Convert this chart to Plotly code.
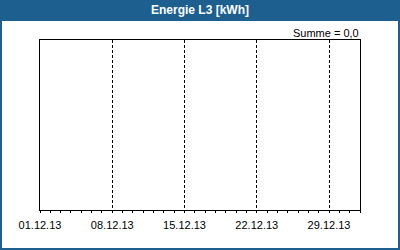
import plotly.graph_objects as go

# Data (the chart shows no measurements for this period)
dates = []
energy_kwh = []
tick_dates = ["2013-12-01", "2013-12-08", "2013-12-15", "2013-12-22", "2013-12-29"]
tick_labels = ["01.12.13", "08.12.13", "15.12.13", "22.12.13", "29.12.13"]
x_range = ["2013-12-01", "2014-01-01"]
title_text = "Energie L3 [kWh]"

total = sum(energy_kwh)
summe_text = "Summe = " + f"{total:.1f}".replace(".", ",")

W, H = 400, 250
ML, MR, MT, MB = 40, 40, 40, 40
PW, PH = W - ML - MR, H - MT - MB

def px(x):
    return (x - ML) / PW

def py(y):
    return (H - MB - y) / PH

BLUE = "#1d5f8f"
FONT = "Tahoma, Liberation Sans, Arial, sans-serif"

fig = go.Figure()
fig.add_trace(go.Scatter(x=dates, y=energy_kwh, mode="lines",
                         line=dict(color=BLUE, width=1), showlegend=False))

fig.update_layout(
    width=W, height=H,
    margin=dict(l=ML, r=MR, t=MT, b=MB),
    paper_bgcolor="white", plot_bgcolor="white",
    showlegend=False,
    font=dict(family=FONT, size=11, color="black"),
    xaxis=dict(
        type="date", range=x_range,
        tickvals=tick_dates, ticktext=tick_labels,
        ticks="outside", ticklen=2, tickcolor="black",
        ticklabelstandoff=3,
        showline=True, linecolor="black", linewidth=1, mirror=True,
        showgrid=True, gridcolor="black", gridwidth=1, griddash="3px,2px",
        zeroline=False,
        minor=dict(dtick=86400000, ticks="outside", ticklen=2,
                   tickcolor="black", showgrid=False),
        tickfont=dict(family=FONT, size=11, color="black"),
        fixedrange=True,
    ),
    yaxis=dict(
        range=[0, 1], showticklabels=False, ticks="",
        showline=True, linecolor="black", linewidth=1, mirror=True,
        showgrid=False, zeroline=False, fixedrange=True,
    ),
    shapes=[
        dict(type="rect", xref="paper", yref="paper",
             x0=px(0), x1=px(W), y0=py(21), y1=py(0),
             fillcolor=BLUE, line=dict(width=0), layer="above"),
        dict(type="rect", xref="paper", yref="paper",
             x0=px(1), x1=px(W - 1), y0=py(H - 1), y1=py(1),
             fillcolor="rgba(0,0,0,0)", line=dict(color=BLUE, width=2),
             layer="above"),
    ],
    annotations=[
        dict(text="<b>" + title_text + "</b>", xref="paper", yref="paper",
             x=0.5, y=py(10.5), xanchor="center", yanchor="middle",
             showarrow=False, font=dict(family=FONT, size=12, color="white")),
        dict(text=summe_text, xref="paper", yref="paper",
             x=px(361), y=py(33), xanchor="right", yanchor="middle",
             showarrow=False, font=dict(family=FONT, size=11, color="black")),
    ],
)

fig.write_html("out.html")
